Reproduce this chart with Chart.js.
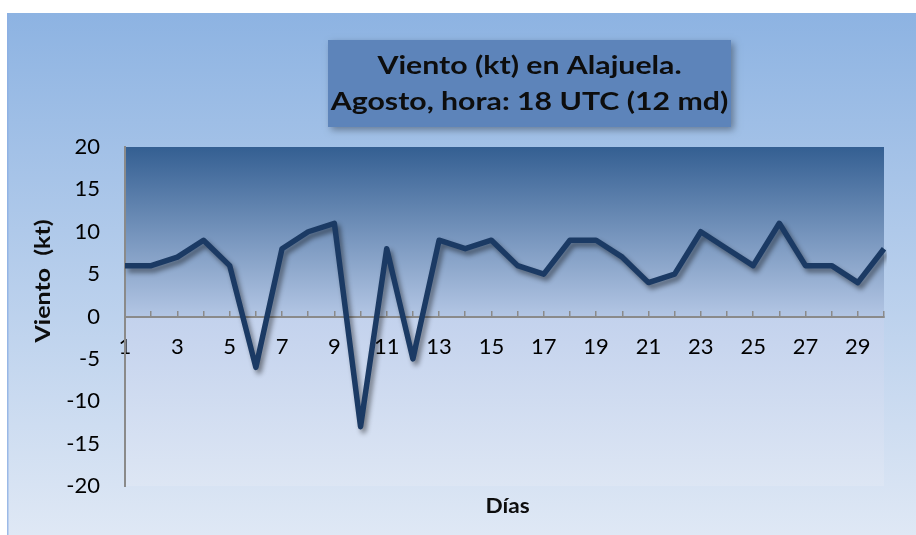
<!DOCTYPE html>
<html><head><meta charset="utf-8">
<script src="https://cdn.jsdelivr.net/npm/chart.js@4.4.1/dist/chart.umd.min.js"></script>
<style>html,body{margin:0;padding:0;background:#fff;overflow:hidden}#wrap{width:916px;height:535px;position:relative}</style>
</head><body><div id="wrap"><canvas id="c" width="916" height="535"></canvas></div>
<script>
const dias = ['1','2','3','4','5','6','7','8','9','10','11','12','13','14','15','16','17','18','19','20','21','22','23','24','25','26','27','28','29','30'];
const viento = [6,6,7,9,6,-6,8,10,11,-13,8,-5,9,8,9,6,5,9,9,7,4,5,10,8,6,11,6,6,4,8];
const tituloLineas = ['Viento (kt) en Alajuela.', 'Agosto, hora: 18 UTC (12 md)'];
const tituloY = 'Viento  (kt)';
const tituloX = 'Días';
const yMin = -20, yMax = 20, yPaso = 5;

function stretchedText(ctx, text, x, y, sx) {
  ctx.save();
  ctx.translate(x, y);
  ctx.scale(sx, 1);
  ctx.fillText(text, 0, 0);
  ctx.restore();
}

const decor = {
  id: 'decor',
  beforeDraw(chart) {
    const {ctx, width, height, chartArea: a} = chart;
    ctx.save();
    ctx.fillStyle = '#ffffff'; ctx.fillRect(0, 0, width, height);
    const g = ctx.createLinearGradient(0, 13, 0, height);
    g.addColorStop(0, '#8db3e2'); g.addColorStop(1, '#dfe8f5');
    ctx.fillStyle = g; ctx.fillRect(7, 13, width - 7, height - 13);
    ctx.fillStyle = 'rgba(140,175,228,0.8)'; ctx.fillRect(7, 13, 1.5, height - 13);
    const y0 = chart.scales.y.getPixelForValue(0);
    const f = (y0 - a.top) / (a.bottom - a.top);
    const pg = ctx.createLinearGradient(0, a.top, 0, a.bottom);
    pg.addColorStop(0, '#345f92');
    pg.addColorStop(f, '#b3c6e4');
    pg.addColorStop(Math.min(1, f + 0.002), '#c3d2ed');
    pg.addColorStop(1, '#dde6f4');
    ctx.fillStyle = pg; ctx.fillRect(a.left, a.top, a.right - a.left, a.bottom - a.top);
    ctx.shadowColor = 'rgba(0,0,0,0.35)'; ctx.shadowBlur = 7; ctx.shadowOffsetX = 3; ctx.shadowOffsetY = 3;
    ctx.fillStyle = '#5d84ba'; ctx.fillRect(328, 40, 403, 87);
    ctx.restore();
  },
  afterDraw(chart) {
    const {ctx, chartArea: a} = chart;
    ctx.save();
    ctx.fillStyle = '#0d0d0d';
    ctx.textAlign = 'center'; ctx.textBaseline = 'middle';
    ctx.font = 'bold 24px Lato';
    stretchedText(ctx, tituloLineas[0], 529.5, 66, 1.26);
    stretchedText(ctx, tituloLineas[1], 529.5, 102, 1.26);
    ctx.font = 'bold 20px Lato';
    stretchedText(ctx, tituloX, (a.left + a.right) / 2 + 3, a.bottom + 21, 1.13);
    ctx.translate(44, 281); ctx.rotate(-Math.PI / 2);
    stretchedText(ctx, tituloY, 0, 0, 1.25);
    ctx.restore();
  },
  beforeDatasetDraw(chart) {
    const ctx = chart.ctx;
    ctx.save();
    ctx.shadowColor = 'rgba(0,0,0,0.45)'; ctx.shadowBlur = 5; ctx.shadowOffsetX = 3; ctx.shadowOffsetY = 4;
  },
  afterDatasetDraw(chart) { chart.ctx.restore(); }
};

new Chart(document.getElementById('c'), {
  type: 'line',
  data: { labels: dias, datasets: [{ data: viento, borderColor: '#1b3a64', borderWidth: 5.5, borderJoinStyle: 'round', pointRadius: 0, tension: 0, fill: false }] },
  options: {
    responsive: false, devicePixelRatio: 1, animation: false,
    layout: { padding: { top: 147, right: 32, left: 0, bottom: 49 } },
    plugins: { legend: { display: false }, title: { display: false }, tooltip: { enabled: false } },
    scales: {
      x: {
        type: 'category', offset: false, position: { y: 0 },
        grid: { display: true, drawOnChartArea: false, drawTicks: true, tickLength: -7, color: '#8a8a8a', lineWidth: 1.5 },
        border: { display: true, color: '#8a8a8a', width: 2 },
        ticks: { autoSkip: false, maxRotation: 0, minRotation: 0, padding: 24, color: '#000', font: { family: 'Lato', size: 22 },
          callback: function (v, i) { return i % 2 === 0 ? this.getLabelForValue(v) : ''; } }
      },
      y: {
        min: yMin, max: yMax,
        afterFit: s => { s.width = 125; },
        grid: { display: false, drawTicks: true, tickLength: 25 },
        border: { display: true, color: '#8a8a8a', width: 2 },
        ticks: { stepSize: yPaso, padding: 0, color: '#000', font: { family: 'Lato', size: 22 } }
      }
    }
  },
  plugins: [decor]
});
</script></body></html>
